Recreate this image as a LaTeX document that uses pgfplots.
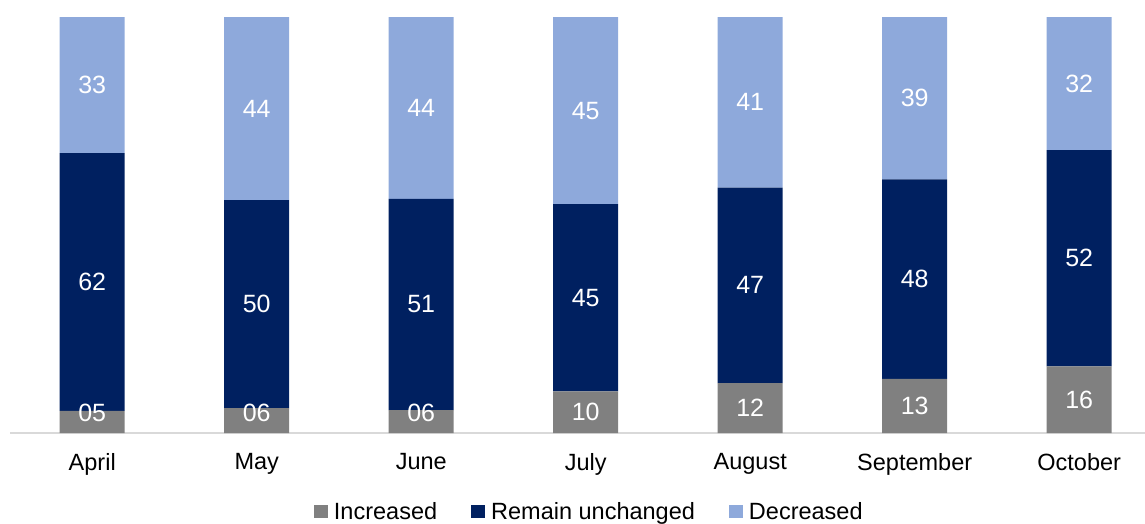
\documentclass[border=0pt]{standalone}
\usepackage{fontspec}
\setmainfont{Liberation Sans}
\usepackage{pgfplots}
\usepackage{pgfplotstable}
\pgfplotsset{compat=1.18}

\definecolor{incgray}{HTML}{808080}
\definecolor{remnavy}{HTML}{002060}
\definecolor{declight}{HTML}{8EA9DB}
\definecolor{axisgray}{HTML}{D9D9D9}

% increase / unchanged / decrease shares by month (bar heights, printed labels)
\pgfplotstableread{
x inc  incl rem  reml dec  decl
0 5.3  05   62   62   32.7 33
1 6    06   50   50   44   44
2 5.5  06   50.8 51   43.7 44
3 10   10   45   45   45   45
4 12   12   47   47   41   41
5 13   13   48   48   39   39
6 16   16   52   52   32   32
}\survey

% 433pt axis height over 104.1 units
\def\unit{4.1595pt}

\begin{document}
\begin{tikzpicture}
\begin{axis}[
    at={(0pt,0pt)}, anchor=south west,
    scale only axis,
    width=1135pt, height=433pt,
    ybar stacked,
    bar width=65pt,
    xmin=-0.5, xmax=6.4,
    ymin=0, ymax=104.1,
    axis y line=none,
    axis x line*=bottom,
    x axis line style={draw=axisgray, line width=1.5pt, -},
    xtick=data,
    xticklabels={April, May, June, July, August, September, October},
    xtick style={draw=none},
    xticklabel style={font=\fontsize{23.5}{28}\selectfont, yshift=-17pt},
    legend style={
        at={(0.5095,-0.182)}, anchor=center,
        draw=none, fill=none,
        legend columns=-1,
        font=\fontsize{23.5}{28}\selectfont,
        nodes={inner sep=0pt},
        /tikz/every odd column/.append style={column sep=6pt},
        /tikz/every even column/.append style={column sep=34pt},
    },
    legend image code/.code={\fill[#1] (0pt,-6pt) rectangle (14pt,7pt);},
    nodes near coords,
    point meta=explicit symbolic,
    visualization depends on={rawy \as \rawy},
    every node near coord/.style={font=\fontsize{25}{30}\selectfont, text=white, anchor=center},
]
% small segments: label kept clear of the base line
\addplot[fill=incgray, draw=none,
    every node near coord/.append style={yshift={(max(\rawy/2,4.8)-\rawy/2)*\unit}},
] table[x=x, y=inc, meta=incl] {\survey};
\addlegendentry{Increased}
\addplot[fill=remnavy, draw=none] table[x=x, y=rem, meta=reml] {\survey};
\addlegendentry{Remain unchanged}
\addplot[fill=declight, draw=none] table[x=x, y=dec, meta=decl] {\survey};
\addlegendentry{Decreased}
\end{axis}
\pgfresetboundingbox
\path[use as bounding box] (-10pt,-91pt) rectangle (1135pt,433pt);
\end{tikzpicture}
\end{document}
